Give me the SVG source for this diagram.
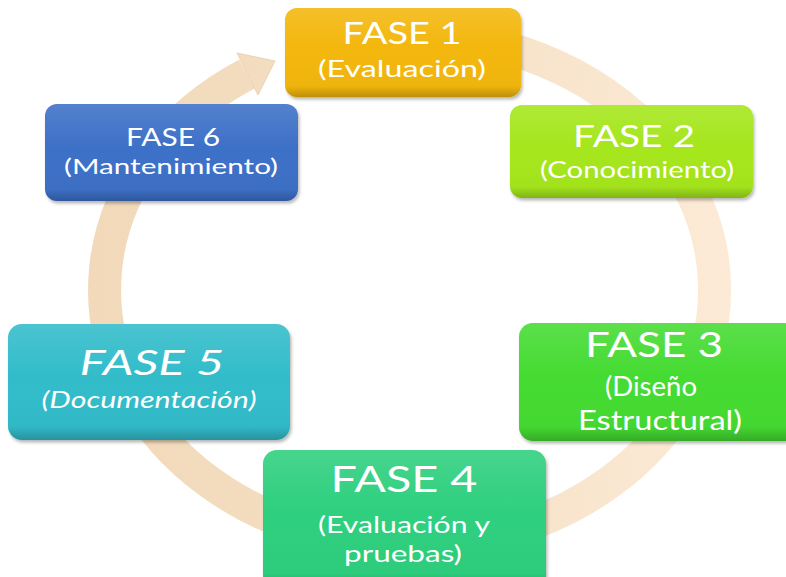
<svg xmlns="http://www.w3.org/2000/svg" width="786" height="577" viewBox="0 0 786 577">
  <defs>
    <linearGradient id="ringGrad" gradientUnits="userSpaceOnUse" x1="90" y1="0" x2="720" y2="0">
      <stop offset="0" stop-color="#F1D9B9"/>
      <stop offset="0.5" stop-color="#F6E0C4"/>
      <stop offset="1" stop-color="#FCEAD6"/>
    </linearGradient>
    <linearGradient id="shade" x1="0" y1="0" x2="0" y2="1">
      <stop offset="0" stop-color="#ffffff" stop-opacity="0.12"/>
      <stop offset="0.45" stop-color="#ffffff" stop-opacity="0"/>
      <stop offset="0.88" stop-color="#000000" stop-opacity="0.02"/>
      <stop offset="1" stop-color="#000000" stop-opacity="0.22"/>
    </linearGradient>
    <filter id="shadow" x="-10%" y="-10%" width="120%" height="130%">
      <feDropShadow dx="1.5" dy="2.5" stdDeviation="1.8" flood-color="#000000" flood-opacity="0.28"/>
    </filter>
  </defs>
  <style>
    .box { filter: url(#shadow); }
    .ov { fill: url(#shade); }
    .t { fill: #ffffff; font-family: Lato, "Open Sans", "Liberation Sans", sans-serif; text-anchor: middle; }
    .it { font-style: italic; }
  </style>

  <g id="connectors">
    <path d="M 450 37 A 305 255 0 1 1 247 74" fill="none" stroke="url(#ringGrad)" stroke-width="33"/>
    <polygon points="237,53 275,61 258,95" fill="url(#ringGrad)" stroke="#E3CDB0" stroke-width="0.8"/>
  </g>

  <g id="fase1">
    <rect class="box" x="285" y="8" width="236" height="89" rx="12" fill="#F3B707"/>
    <rect class="ov" x="285" y="8" width="236" height="89" rx="12"/>
    <text class="t" x="402" y="44" font-size="30" textLength="119" lengthAdjust="spacingAndGlyphs">FASE 1</text>
    <text class="t" x="402" y="77" font-size="23" textLength="168" lengthAdjust="spacingAndGlyphs">(Evaluación)</text>
  </g>

  <g id="fase2">
    <rect class="box" x="510" y="105" width="243" height="93" rx="12" fill="#A5E61F"/>
    <rect class="ov" x="510" y="105" width="243" height="93" rx="12"/>
    <text class="t" x="634" y="147" font-size="31" textLength="122" lengthAdjust="spacingAndGlyphs">FASE 2</text>
    <text class="t" x="637" y="177.5" font-size="22.5" textLength="194" lengthAdjust="spacingAndGlyphs">(Conocimiento)</text>
  </g>

  <g id="fase3">
    <rect class="box" x="519" y="323" width="280" height="118" rx="14" fill="#45DB33"/>
    <rect class="ov" x="519" y="323" width="280" height="118" rx="14"/>
    <text class="t" x="654" y="357" font-size="35" textLength="138" lengthAdjust="spacingAndGlyphs">FASE 3</text>
    <text class="t" x="651" y="396" font-size="26" textLength="92" lengthAdjust="spacingAndGlyphs">(Diseño</text>
    <text class="t" x="660" y="430" font-size="26" textLength="164" lengthAdjust="spacingAndGlyphs">Estructural)</text>
  </g>

  <g id="fase4">
    <rect class="box" x="263" y="450" width="283" height="140" rx="14" fill="#2ECF7E"/>
    <rect class="ov" x="263" y="450" width="283" height="140" rx="14"/>
    <text class="t" x="404" y="492" font-size="37" textLength="147" lengthAdjust="spacingAndGlyphs">FASE 4</text>
    <text class="t" x="404" y="533" font-size="23.5" textLength="172" lengthAdjust="spacingAndGlyphs">(Evaluación y</text>
    <text class="t" x="403" y="562" font-size="23.5" textLength="118" lengthAdjust="spacingAndGlyphs">pruebas)</text>
  </g>

  <g id="fase5">
    <rect class="box" x="8" y="324" width="282" height="116" rx="14" fill="#31BCCA"/>
    <rect class="ov" x="8" y="324" width="282" height="116" rx="14"/>
    <text class="t it" x="152" y="375" font-size="35" textLength="145" lengthAdjust="spacingAndGlyphs">FASE 5</text>
    <text class="t it" x="149" y="407.5" font-size="23" textLength="215" lengthAdjust="spacingAndGlyphs">(Documentación)</text>
  </g>

  <g id="fase6">
    <rect class="box" x="45" y="104" width="253" height="97" rx="12" fill="#3D70C7"/>
    <rect class="ov" x="45" y="104" width="253" height="97" rx="12"/>
    <text class="t" x="173" y="145.5" font-size="25" textLength="94" lengthAdjust="spacingAndGlyphs">FASE 6</text>
    <text class="t" x="171" y="174" font-size="22" textLength="214" lengthAdjust="spacingAndGlyphs">(Mantenimiento)</text>
  </g>
</svg>
